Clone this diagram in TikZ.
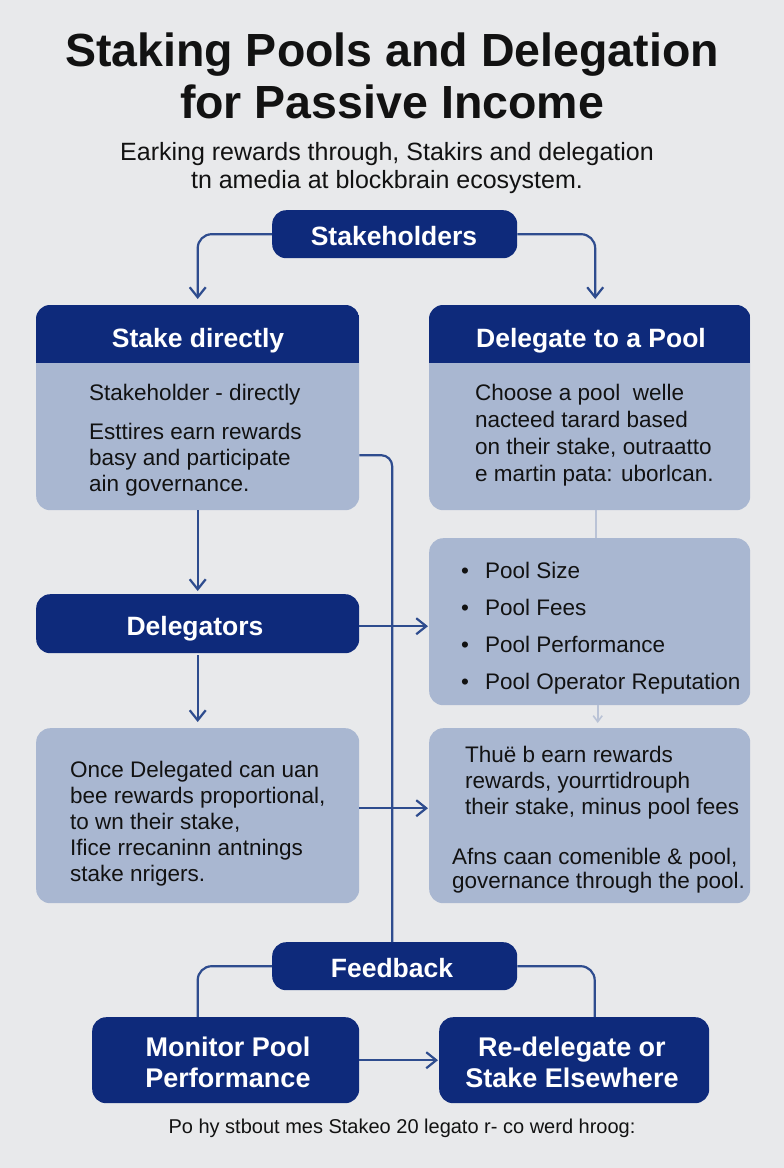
\documentclass[tikz,border=0pt]{standalone}
\usepackage{fontspec}
\setmainfont{Liberation Sans}
\usetikzlibrary{arrows.meta}
\definecolor{navy}{HTML}{0E2A7B}
\definecolor{lightfill}{HTML}{A9B7D1}
\definecolor{bgcol}{HTML}{E8E9EB}
\definecolor{conncol}{HTML}{2E4C8E}
\definecolor{faintcol}{HTML}{BAC3D6}
\definecolor{inkcol}{HTML}{121212}
\begin{document}
\begin{tikzpicture}[x=1pt,y=-1pt,
  darkbox/.style={fill=navy, rounded corners=14pt, inner sep=0pt, anchor=north west},
  litebox/.style={fill=lightfill, rounded corners=14pt, inner sep=0pt, anchor=north west},
  headtxt/.style={text=white, font=\bfseries\fontsize{26.5}{31}\selectfont, inner sep=0pt, anchor=base},
  bodytxt/.style={text=inkcol, font=\fontsize{22.5}{26}\selectfont, align=left, inner sep=0pt, anchor=north west},
  link/.style={draw=conncol, line width=2.2pt, rounded corners=14pt},
  arr/.style={link, -{Straight Barb[length=10pt,width=16pt]}},
  faintlink/.style={draw=faintcol, line width=1.6pt}
]
\fill[bgcol] (0,0) rectangle (784,1168);
\useasboundingbox (0,0) rectangle (784,1168);

% title
\node[font=\bfseries\fontsize{46.5}{52}\selectfont, text=inkcol, align=center, inner sep=0pt, anchor=north] (title) at (392,33) {Staking Pools and Delegation\\for Passive Income};
\node[font=\fontsize{25}{28}\selectfont, text=inkcol, align=center, inner sep=0pt, anchor=north] (subtitle) at (387,142) {Earking rewards through, Stakirs and delegation\\tn amedia at blockbrain ecosystem.};

% boxes
\node[darkbox, minimum width=245pt, minimum height=48pt] (sh) at (272,210) {};
\node[litebox, minimum width=323pt, minimum height=205pt] (sd) at (36,305) {};
\node[litebox, minimum width=321pt, minimum height=205pt] (dp) at (429,305) {};
\begin{scope}
  \clip[rounded corners=14pt] (sd.north west) rectangle (sd.south east);
  \fill[navy] (sd.north west) rectangle ([yshift=-58pt]sd.north east);
\end{scope}
\begin{scope}
  \clip[rounded corners=14pt] (dp.north west) rectangle (dp.south east);
  \fill[navy] (dp.north west) rectangle ([yshift=-58pt]dp.north east);
\end{scope}
\node[darkbox, minimum width=323pt, minimum height=59pt] (dg) at (36,594) {};
\node[litebox, minimum width=321pt, minimum height=167pt] (cr) at (429,538) {};
\node[litebox, minimum width=323pt, minimum height=175pt] (on) at (36,728) {};
\node[litebox, minimum width=321pt, minimum height=175pt] (er) at (429,728) {};
\node[darkbox, minimum width=245pt, minimum height=48pt] (fb) at (272,942) {};
\node[darkbox, minimum width=267pt, minimum height=86pt] (mo) at (92,1017) {};
\node[darkbox, minimum width=270pt, minimum height=86pt] (rd) at (439,1017) {};

% connectors
\draw[arr, shorten >=6pt] (sh.west) -| (sd.north);
\draw[arr, shorten >=6pt] (sh.east) -| ([xshift=5.5pt]dp.north);
\draw[arr, shorten >=3pt] (sd.south) -- (dg.north);
\draw[arr, shorten >=1pt] ([yshift=-2.5pt]dg.east) -- ([yshift=-2.5pt]dg.east -| cr.west);
\draw[arr, shorten >=6pt, shorten <=2pt] (dg.south) -- (on.north);
\draw[arr, shorten >=1pt] ([yshift=7.5pt]on.east) -- ([yshift=7.5pt]er.west);
\draw[link, rounded corners=11pt] ([yshift=-47.5pt]sd.east) -| ([xshift=-2.5pt]fb.north);
\draw[link] (fb.west) -| (mo.north -| sd.north);
\draw[link] (fb.east) -| ([xshift=5pt]dp.north |- rd.north);
\draw[arr, shorten >=1pt] (mo.east) -- (rd.west);
\draw[faintlink] ([xshift=6.5pt]dp.south) -- ([xshift=6.5pt]cr.north);
\draw[faintlink, -{Straight Barb[length=6pt,width=9pt]}, shorten >=5pt] ([xshift=8pt]cr.south) -- ([xshift=8pt]er.north);

% header texts
\node[headtxt] (sht) at (394,245) {Stakeholders};
\node[headtxt] (sdt) at (198,347) {Stake directly};
\node[headtxt] (dpt) at (591,347) {Delegate to a Pool};
\node[headtxt] (dgt) at (195,635) {Delegators};
\node[headtxt] (fbt) at (392,977) {Feedback};
\node[text=white, font=\bfseries\fontsize{27}{31}\selectfont, align=center, inner sep=0pt, anchor=north] (mot) at (228,1037) {Monitor Pool\\Performance};
\node[text=white, font=\bfseries\fontsize{27}{31}\selectfont, align=center, inner sep=0pt, anchor=north] (rdt) at (572,1037) {Re-delegate or\\Stake Elsewhere};

% body texts
\node[bodytxt] (sdb1) at (89,384) {Stakeholder - directly};
\node[bodytxt] (sdb2) at (89,423) {Esttires earn rewards\\basy and participate\\ain governance.};
\node[bodytxt, font=\fontsize{22.5}{27}\selectfont] (dpb) at (475,384) {Choose a pool\ \ welle\\nacteed tarard based\\on their stake, outraatto\\e martin pata: uborlcan.};
\node[bodytxt, font=\fontsize{22.5}{37}\selectfont] (crb) at (461,562) {\makebox[24pt][l]{\textbullet}Pool Size\\\makebox[24pt][l]{\textbullet}Pool Fees\\\makebox[24pt][l]{\textbullet}Pool Performance\\\makebox[24pt][l]{\textbullet}Pool Operator Reputation};
\node[bodytxt] (onb) at (70,761) {Once Delegated can uan\\bee rewards proportional,\\to wn their stake,\\Ifice rrecaninn antnings\\stake nrigers.};
\node[bodytxt] (erb1) at (465,746) {Thuë b earn rewards\\rewards, yourrtidrouph\\their stake, minus pool fees};
\node[bodytxt, font=\fontsize{22.5}{24}\selectfont] (erb2) at (452,848) {Afns caan comenible \& pool,\\governance through the pool.};

% footer
\node[font=\fontsize{20}{24}\selectfont, text=inkcol, inner sep=0pt, anchor=base] (foot) at (402,1133) {Po hy stbout mes Stakeo 20 legato r- co werd hroog:};
\end{tikzpicture}
\end{document}
